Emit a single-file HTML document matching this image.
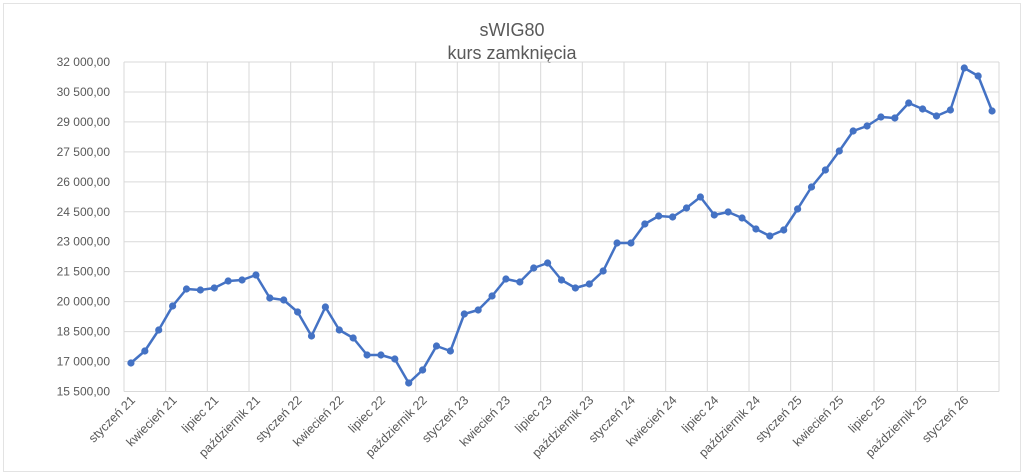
<!DOCTYPE html>
<html><head><meta charset="utf-8"><style>body{margin:0;background:#fff}svg{display:block}text{font-family:"Liberation Sans",sans-serif}</style></head><body>
<svg width="1024" height="475" xmlns="http://www.w3.org/2000/svg">
<rect x="3.5" y="3.5" width="1017" height="468" fill="#fff" stroke="#e3e3e3"/>
<text x="512" y="36" text-anchor="middle" font-size="18" fill="#595959">sWIG80</text>
<text x="512" y="59" text-anchor="middle" font-size="18" fill="#595959">kurs zamknięcia</text>
<g stroke="#d9d9d9" stroke-width="1" id="g"></g>
<g font-size="12" fill="#595959" text-anchor="end" id="yl"></g>
<g font-size="12.5" fill="#595959" text-anchor="end" id="xl"></g>
<polyline id="ln" fill="none" stroke="#4472c4" stroke-width="2.5" stroke-linejoin="round"/>
<g fill="#4472c4" id="mk"></g>
</svg>
<script>
var ns="http://www.w3.org/2000/svg";
function el(p,t,a,txt){var e=document.createElementNS(ns,t);for(var k in a)e.setAttribute(k,a[k]);if(txt)e.textContent=txt;document.getElementById(p).appendChild(e);}
var L=124,R=999,T=62,B=391.5,step=(R-L)/63;
var yv=["32 000,00","30 500,00","29 000,00","27 500,00","26 000,00","24 500,00","23 000,00","21 500,00","20 000,00","18 500,00","17 000,00","15 500,00"];
for(var i=0;i<12;i++){var y=T+i*(B-T)/11;el("g","line",{x1:L,x2:R,y1:y,y2:y});el("yl","text",{x:110,y:y+4},yv[i]);}
for(var k=0;k<=21;k++){var x=L+k*3*step;el("g","line",{x1:x,x2:x,y1:T,y2:B});}
var names=["styczeń","kwiecień","lipiec","październik"];
for(var k=0;k<21;k++){var x=L+(k*3+0.5)*step+5,y=401;var yr=21+Math.floor(k/4);el("xl","text",{x:x,y:y,transform:"rotate(-45 "+x+" "+y+")"},names[k%4]+" "+yr);}
var ys=[363,351,330,306,289,290,288,281,280,275,298,300,312,336,307,330,338,355,355,359,383,370,346,351,314,310,296,279,282,268,263,280,288,284,271,243,243,224,216,217,208,197,215,212,218,229,236,230,209,187,170,151,131,126,117,118,103,109,116,110,68,76,111];
var pts=[];for(var i=0;i<ys.length;i++){var x=L+(i+0.5)*step;pts.push(x.toFixed(1)+","+ys[i]);el("mk","circle",{cx:x,cy:ys[i],r:3.6});}
document.getElementById("ln").setAttribute("points",pts.join(" "));
</script>
</body></html>
